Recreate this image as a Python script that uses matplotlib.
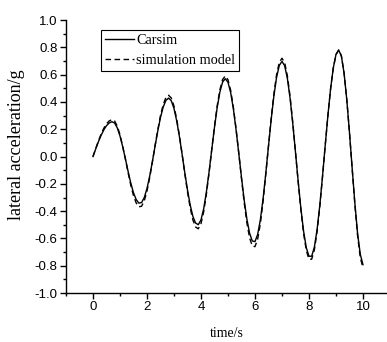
import matplotlib
matplotlib.use("Agg")
import matplotlib.pyplot as plt
from matplotlib.ticker import MultipleLocator

# time axis, 0.1 s step
time_s = [round(i * 0.1, 1) for i in range(101)]

carsim = [
    0.000, 0.055, 0.108, 0.155, 0.195, 0.226, 0.246, 0.255, 0.246, 0.210,
    0.151, 0.072, -0.016, -0.108, -0.194, -0.265, -0.315, -0.341, -0.337, -0.300,
    -0.234, -0.144, -0.037, 0.077, 0.187, 0.286, 0.362, 0.411, 0.428, 0.409,
    0.352, 0.262, 0.148, 0.018, -0.117, -0.244, -0.354, -0.438, -0.487, -0.499,
    -0.464, -0.382, -0.260, -0.112, 0.052, 0.213, 0.358, 0.472, 0.545, 0.570,
    0.544, 0.468, 0.349, 0.196, 0.024, -0.152, -0.318, -0.458, -0.561, -0.618,
    -0.623, -0.570, -0.462, -0.309, -0.124, 0.075, 0.270, 0.443, 0.580, 0.667,
    0.697, 0.665, 0.572, 0.427, 0.241, 0.033, -0.181, -0.379, -0.546, -0.667,
    -0.730, -0.730, -0.663, -0.535, -0.359, -0.148, 0.078, 0.298, 0.495, 0.648,
    0.747, 0.780, 0.737, 0.611, 0.418, 0.176, -0.086, -0.342, -0.562, -0.715,
    -0.792,
]

simulation = [
    0.000, 0.058, 0.114, 0.164, 0.207, 0.240, 0.261, 0.270, 0.261, 0.223,
    0.160, 0.076, -0.017, -0.117, -0.210, -0.286, -0.340, -0.368, -0.364, -0.324,
    -0.253, -0.156, -0.040, 0.081, 0.196, 0.300, 0.380, 0.432, 0.449, 0.429,
    0.370, 0.275, 0.155, 0.019, -0.124, -0.259, -0.375, -0.464, -0.516, -0.529,
    -0.492, -0.405, -0.276, -0.119, 0.054, 0.220, 0.371, 0.489, 0.564, 0.590,
    0.563, 0.484, 0.361, 0.203, 0.025, -0.161, -0.337, -0.485, -0.595, -0.655,
    -0.660, -0.604, -0.490, -0.328, -0.131, 0.077, 0.279, 0.458, 0.599, 0.689,
    0.720, 0.687, 0.591, 0.441, 0.249, 0.034, -0.186, -0.390, -0.562, -0.687,
    -0.752, -0.752, -0.683, -0.551, -0.370, -0.152, 0.078, 0.298, 0.495, 0.648,
    0.747, 0.780, 0.737, 0.611, 0.418, 0.176, -0.089, -0.352, -0.579, -0.740,
    -0.815,
]

plt.rcParams["lines.scale_dashes"] = False

fig = plt.figure(figsize=(3.87, 3.42), dpi=100)
ax = fig.add_axes([0.1705, 0.143, 0.8295, 0.7985])

ax.plot(time_s, carsim, color="black", lw=1.0, label="Carsim")
ax.plot(time_s, simulation, color="black", lw=1.0, dashes=(4, 2.5),
        label="simulation model")

ax.set_xlim(-1, 10.89)
ax.set_ylim(-1.0, 1.0)

ax.spines["top"].set_visible(False)
ax.spines["right"].set_visible(False)
for s in ("left", "bottom"):
    ax.spines[s].set_linewidth(1.0)

ax.xaxis.set_major_locator(MultipleLocator(2))
ax.xaxis.set_minor_locator(MultipleLocator(1))
ax.yaxis.set_major_locator(MultipleLocator(0.2))
ax.yaxis.set_minor_locator(MultipleLocator(0.1))
ax.tick_params(which="major", direction="out", length=4, width=1.0,
               labelsize=9.5, pad=2)
ax.tick_params(which="minor", direction="out", length=2.5, width=1.0)
for lab in ax.get_xticklabels() + ax.get_yticklabels():
    lab.set_fontfamily("Liberation Sans")
ax.yaxis.set_major_formatter(matplotlib.ticker.FormatStrFormatter("%.1f"))

ax.set_xlabel("time/s", family="Liberation Serif", fontsize=10, labelpad=10)
ax.set_ylabel("lateral acceleration/g", family="Liberation Serif",
              fontsize=13)
ax.yaxis.set_label_coords(-0.128, 0.542)

leg = ax.legend(loc="upper left", bbox_to_anchor=(0.109, 0.963),
                prop={"family": "Liberation Serif", "size": 10.3},
                frameon=True, fancybox=False, framealpha=1,
                edgecolor="black", borderpad=0.3, labelspacing=0.45,
                handlelength=2.0, handletextpad=0.15, borderaxespad=0)
leg.get_frame().set_linewidth(0.8)

fig.savefig("out.png", dpi=100)
